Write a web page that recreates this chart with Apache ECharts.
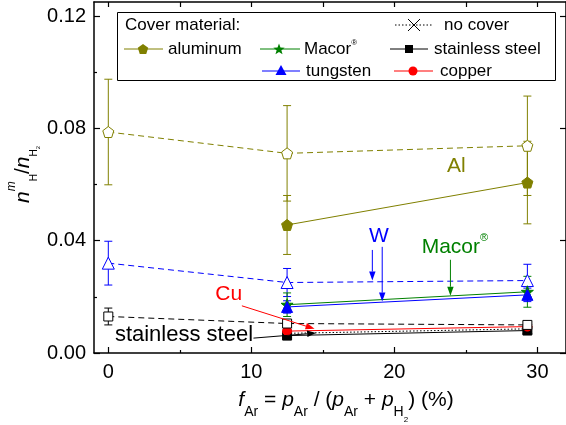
<!DOCTYPE html>
<html>
<head>
<meta charset="utf-8">
<script src="https://cdn.jsdelivr.net/npm/echarts@6/dist/echarts.min.js"></script>
<style>
  html, body { margin: 0; padding: 0; background: #fff; }
  #chart { width: 566px; height: 425px; }
</style>
</head>
<body>
<div id="chart"></div>
<script>
const FONT = '"Liberation Sans", Arial, Helvetica, sans-serif';

// Ar fraction of the gas feed, f_Ar (%)
const fArNoCover = [0, 12.5, 29.3];
const fArCover = [12.5, 29.3];

// n^m_H / n_H2 measured without a cover (open symbols, dashed lines)
const aluminumOpen = [0.0787, 0.0711, 0.0738];
const aluminumOpenErr = [0.0188, 0.0170, 0.0177];
const tungstenOpen = [0.0320, 0.0251, 0.0258];
const tungstenOpenErr = [0.0078, 0.0050, 0.0058];
const steelOpen = [0.0130, 0.0105, 0.0100];
const steelOpenErr = [0.0030, 0.0012, 0.0012];

// n^m_H / n_H2 measured with a cover of the given material
const aluminum = [0.0456, 0.0607];
const aluminumErr = [0.0105, 0.0147];
const macor = [0.0172, 0.0218];
const macorErr = [0.0042, 0.0055];
const tungsten = [0.0164, 0.0207];
const tungstenErr = [0.0022, 0.0024];
const steel = [0.0062, 0.0080];
const steelErr = [0.0012, 0.0012];
const copper = [0.0078, 0.0094];
const copperErr = [0.0012, 0.0012];
const noCover = [0.0070, 0.0086];
const noCoverErr = [0.0010, 0.0010];

// Axis ticks
const xTicks = [0, 10, 20, 30];
const xMinorTicks = [5, 15, 25];
const xTopTicks = [0, 5, 10, 15, 20, 25, 30];
const yTicks = [0, 0.04, 0.08, 0.12];
const yMinorTicks = [0.02, 0.06, 0.10];

const OLIVE = '#808000', GREEN = '#008000', BLUE = '#0000ff', RED = '#ff0000', BLACK = '#000000';

function polyPath(n, rOuter, rInner) {
  let d = '';
  const k = rInner ? 2 * n : n;
  for (let i = 0; i < k; i++) {
    const r = rInner && i % 2 ? rInner : rOuter;
    const a = -Math.PI / 2 + i * 2 * Math.PI / k;
    d += (i ? 'L' : 'M') + (50 + r * Math.cos(a)).toFixed(2) + ',' + (50 + r * Math.sin(a)).toFixed(2);
  }
  return d + 'Z';
}
const PENTAGON = 'path://' + polyPath(5, 50);
const STAR = 'path://' + polyPath(5, 50, 20);
const CROSS = 'path://M0,0L10,10M10,0L0,10';

function pts(xs, ys) { return xs.map((x, i) => [x, ys[i]]); }

function lineSeries(name, xs, ys, color, symbol, size, filled, dash) {
  return {
    name, type: 'line', data: pts(xs, ys), symbol, symbolSize: size,
    showSymbol: true, z: 3, silent: true, animation: false,
    lineStyle: { color, width: 1, type: dash || 'solid' },
    itemStyle: filled === 'none'
      ? { color: 'rgba(0,0,0,0)', borderColor: color, borderWidth: 1 }
      : { color: filled ? color : '#ffffff', borderColor: color, borderWidth: 1 },
    emphasis: { disabled: true }
  };
}

function errSeries(xs, ys, errs, color) {
  return {
    type: 'custom', z: 2, silent: true, animation: false,
    data: xs.map((x, i) => [x, ys[i], errs[i]]),
    encode: { x: 0, y: 1 },
    renderItem(params, api) {
      const x = api.value(0), y = api.value(1), e = api.value(2);
      const t = api.coord([x, y + e]), b = api.coord([x, y - e]);
      const w = 4, st = { stroke: color, lineWidth: 1 };
      return {
        type: 'group', children: [
          { type: 'line', shape: { x1: t[0], y1: t[1], x2: b[0], y2: b[1] }, style: st },
          { type: 'line', shape: { x1: t[0] - w, y1: t[1], x2: t[0] + w, y2: t[1] }, style: st },
          { type: 'line', shape: { x1: b[0] - w, y1: b[1], x2: b[0] + w, y2: b[1] }, style: st }
        ]
      };
    }
  };
}

const axisLineStyle = { color: BLACK, width: 1.5 };
const tickStyle = { color: BLACK, width: 1.2 };

const chart = echarts.init(document.getElementById('chart'));

chart.setOption({
  animation: false,
  backgroundColor: '#ffffff',
  grid: { left: 94, top: 2, width: 477, height: 351 },
  xAxis: [
    {
      type: 'value', position: 'bottom', min: -1, max: 32,
      axisLine: { show: true, onZero: false, lineStyle: axisLineStyle },
      axisTick: { show: true, inside: true, length: 6, customValues: xTicks, lineStyle: tickStyle },
      axisLabel: { customValues: xTicks, fontSize: 20, fontFamily: FONT, color: BLACK, margin: 9 },
      splitLine: { show: false }
    },
    {
      type: 'value', position: 'bottom', min: -1, max: 32,
      axisLine: { show: false, onZero: false },
      axisTick: { show: true, inside: true, length: 3, customValues: xMinorTicks, lineStyle: tickStyle },
      axisLabel: { show: false }, splitLine: { show: false }
    },
    {
      type: 'value', position: 'top', min: -1, max: 32,
      axisLine: { show: true, onZero: false, lineStyle: axisLineStyle },
      axisTick: { show: true, inside: true, length: 5, customValues: xTopTicks, lineStyle: tickStyle },
      axisLabel: { show: false }, splitLine: { show: false }
    }
  ],
  yAxis: [
    {
      type: 'value', position: 'left', min: 0, max: 0.125,
      axisLine: { show: true, onZero: false, lineStyle: axisLineStyle },
      axisTick: { show: true, inside: true, length: 6, customValues: yTicks, lineStyle: tickStyle },
      axisLabel: { customValues: yTicks, fontSize: 20, fontFamily: FONT, color: BLACK, margin: 8,
                   formatter: v => v.toFixed(2) },
      splitLine: { show: false }
    },
    {
      type: 'value', position: 'left', min: 0, max: 0.125,
      axisLine: { show: false, onZero: false },
      axisTick: { show: true, inside: true, length: 3, customValues: yMinorTicks, lineStyle: tickStyle },
      axisLabel: { show: false }, splitLine: { show: false }
    },
    {
      type: 'value', position: 'right', min: 0, max: 0.125,
      axisLine: { show: true, onZero: false, lineStyle: axisLineStyle },
      axisTick: { show: true, inside: true, length: 6, customValues: yTicks, lineStyle: tickStyle },
      axisLabel: { show: false }, splitLine: { show: false }
    }
  ],
  series: [
    errSeries(fArNoCover, aluminumOpen, aluminumOpenErr, OLIVE),
    errSeries(fArCover, aluminum, aluminumErr, OLIVE),
    errSeries(fArNoCover, tungstenOpen, tungstenOpenErr, BLUE),
    errSeries(fArCover, macor, macorErr, GREEN),
    errSeries(fArCover, tungsten, tungstenErr, BLUE),
    errSeries(fArCover, noCover, noCoverErr, BLACK),
    errSeries(fArCover, steel, steelErr, BLACK),
    errSeries(fArCover, copper, copperErr, RED),
    errSeries(fArNoCover, steelOpen, steelOpenErr, BLACK),
    lineSeries('aluminum, no cover', fArNoCover, aluminumOpen, OLIVE, PENTAGON, 11, false, [6, 4]),
    lineSeries('aluminum', fArCover, aluminum, OLIVE, PENTAGON, 11, true),
    lineSeries('tungsten, no cover', fArNoCover, tungstenOpen, BLUE, 'triangle', 12, false, [6, 4]),
    lineSeries('Macor', fArCover, macor, GREEN, STAR, 12, true),
    lineSeries('tungsten', fArCover, tungsten, BLUE, 'triangle', 11, true),
    lineSeries('no cover', fArCover, noCover, BLACK, CROSS, 9, 'none', [1.5, 2]),
    lineSeries('stainless steel', fArCover, steel, BLACK, 'rect', 9, true),
    lineSeries('copper', fArCover, copper, RED, 'circle', 9, true),
    lineSeries('stainless steel, no cover', fArNoCover, steelOpen, BLACK, 'rect', 9, false, [6, 4])
  ]
});

// ---------- text helpers ----------
const measureCtx = document.createElement('canvas').getContext('2d');
function fontStr(size, italic) { return (italic ? 'italic ' : '') + size + 'px ' + FONT; }
function textWidth(s, size, italic) { measureCtx.font = fontStr(size, italic); return measureCtx.measureText(s).width; }

// A run of text pieces sharing one baseline; each piece is [text, size, italic, baselineShift]
function textRun(pieces, color) {
  let x = 0;
  const children = [];
  pieces.forEach(([s, size, italic, shift]) => {
    children.push({
      type: 'text', x, y: shift - 0.31 * size,
      style: { text: s, fontSize: size, fontFamily: FONT, fontStyle: italic ? 'italic' : 'normal',
               fill: color, align: 'left', verticalAlign: 'middle' }
    });
    x += textWidth(s, size, italic);
  });
  return { children, width: x };
}

function label(s, x, y, size, color, align) {
  return { type: 'text', x, y, z: 50,
           style: { text: s, fontSize: size, fontFamily: FONT, fill: color || BLACK,
                    align: align || 'left', verticalAlign: 'middle' } };
}

function arrow(p0, p1, color) {
  const dx = p1[0] - p0[0], dy = p1[1] - p0[1];
  const L = Math.hypot(dx, dy), ux = dx / L, uy = dy / L;
  const hl = 9, hw = 3.2;
  const bx = p1[0] - ux * hl, by = p1[1] - uy * hl;
  return [
    { type: 'line', z: 50, shape: { x1: p0[0], y1: p0[1], x2: bx, y2: by }, style: { stroke: color, lineWidth: 1 } },
    { type: 'polygon', z: 50, shape: { points: [[p1[0], p1[1]], [bx - uy * hw, by + ux * hw], [bx + uy * hw, by - ux * hw]] },
      style: { fill: color } }
  ];
}

function regularPoly(cx, cy, n, r, rInner) {
  const k = rInner ? 2 * n : n, out = [];
  for (let i = 0; i < k; i++) {
    const rr = rInner && i % 2 ? rInner : r;
    const a = -Math.PI / 2 + i * 2 * Math.PI / k;
    out.push([cx + rr * Math.cos(a), cy + rr * Math.sin(a)]);
  }
  return out;
}

// ---------- overlay: axis titles, legend, annotations ----------
const P = (x, y) => chart.convertToPixel({ gridIndex: 0 }, [x, y]);
const els = [];

// x axis title: f_Ar = p_Ar / (p_Ar + p_H2) (%)
const xt = textRun([
  ['f', 21, true, 0], ['Ar', 14, false, 9],
  [' = ', 21, false, 0], ['p', 21, true, 0], ['Ar', 14, false, 9],
  [' / (', 21, false, 0], ['p', 21, true, 0], ['Ar', 14, false, 9],
  [' + ', 21, false, 0], ['p', 21, true, 0], ['H', 14, false, 9], ['2', 8, false, 15],
  [') (%)', 21, false, 0]
], BLACK);
els.push({ type: 'group', x: 346 - xt.width / 2, y: 407, children: xt.children });

// y axis title: n^m_H / n_H2 (reads bottom to top)
const yt = textRun([
  ['n', 21, true, 0], ['m', 12, true, -15], ['H', 10, false, 7],
  ['/', 21, false, 0], ['n', 21, true, 0], ['H', 10, false, 7], ['2', 6, false, 10]
], BLACK);
els.push({ type: 'group', x: 30, y: 203, rotation: Math.PI / 2, children: yt.children });

// legend box
const LX = 117.5, LY = 12.5;
els.push({ type: 'rect', z: 40, shape: { x: LX, y: LY, width: 438, height: 68 },
           style: { fill: '#ffffff', stroke: BLACK, lineWidth: 1 } });
els.push(label('Cover material:', 125, 25, 17));
// no cover
els.push({ type: 'line', z: 50, shape: { x1: 395, y1: 25, x2: 433, y2: 25 },
           style: { stroke: BLACK, lineWidth: 1, lineDash: [1.5, 2] } });
els.push({ type: 'line', z: 51, shape: { x1: 408, y1: 19, x2: 420, y2: 31 }, style: { stroke: BLACK, lineWidth: 1 } });
els.push({ type: 'line', z: 51, shape: { x1: 420, y1: 19, x2: 408, y2: 31 }, style: { stroke: BLACK, lineWidth: 1 } });
els.push(label('no cover', 444, 25, 17));
// aluminum
els.push({ type: 'line', z: 50, shape: { x1: 124, y1: 49, x2: 163, y2: 49 }, style: { stroke: OLIVE, lineWidth: 1 } });
els.push({ type: 'polygon', z: 51, shape: { points: regularPoly(143, 49.5, 5, 5.5) }, style: { fill: OLIVE } });
els.push(label('aluminum', 168, 49, 17));
// Macor
els.push({ type: 'line', z: 50, shape: { x1: 260, y1: 49, x2: 300, y2: 49 }, style: { stroke: GREEN, lineWidth: 1 } });
els.push({ type: 'polygon', z: 51, shape: { points: regularPoly(279, 49.5, 5, 6, 2.5) }, style: { fill: GREEN } });
els.push(label('Macor', 304, 49, 17));
els.push(label('®', 304 + textWidth('Macor', 17), 43, 8));
// stainless steel
els.push({ type: 'line', z: 50, shape: { x1: 390, y1: 49, x2: 428, y2: 49 }, style: { stroke: BLACK, lineWidth: 1 } });
els.push({ type: 'rect', z: 51, shape: { x: 405, y: 45, width: 8, height: 8 }, style: { fill: BLACK } });
els.push(label('stainless steel', 434, 49, 17));
// tungsten
els.push({ type: 'line', z: 50, shape: { x1: 262, y1: 71, x2: 300, y2: 71 }, style: { stroke: '#7f7fff', lineWidth: 2 } });
els.push({ type: 'polygon', z: 51, shape: { points: [[281, 65], [286.5, 75], [275.5, 75]] }, style: { fill: BLUE } });
els.push(label('tungsten', 306, 71, 17));
// copper
els.push({ type: 'line', z: 50, shape: { x1: 394, y1: 71, x2: 433, y2: 71 }, style: { stroke: '#ff7f7f', lineWidth: 2 } });
els.push({ type: 'circle', z: 51, shape: { cx: 413, cy: 71, r: 4.5 }, style: { fill: RED } });
els.push(label('copper', 440, 71, 17));

// annotations in data coordinates
const al = P(24.33, 0.0666);
els.push(label('Al', al[0], al[1], 21, OLIVE, 'center'));
const w = P(18.92, 0.0417);
els.push(label('W', w[0], w[1], 21, BLUE, 'center'));
els.push(...arrow(P(18.46, 0.0367), P(18.46, 0.0258), BLUE));
els.push(...arrow(P(19.15, 0.0378), P(19.15, 0.0183), BLUE));
const mc = P(21.91, 0.0378);
els.push(label('Macor', mc[0], mc[1], 21, GREEN));
els.push(label('®', mc[0] + textWidth('Macor', 21), mc[1] - 9, 11, GREEN));
els.push(...arrow(P(23.92, 0.0332), P(23.92, 0.0204), GREEN));
const cu = P(8.42, 0.0209);
els.push(label('Cu', cu[0], cu[1], 21, RED, 'center'));
els.push(...arrow(P(9.34, 0.0168), P(14.42, 0.0086), RED));
const ss = P(0.46, 0.0065);
els.push(label('stainless steel', ss[0], ss[1], 22, BLACK));
els.push(...arrow(P(10.15, 0.0053), P(14.53, 0.0071), BLACK));

chart.setOption({ graphic: { elements: els } });
</script>
</body>
</html>
